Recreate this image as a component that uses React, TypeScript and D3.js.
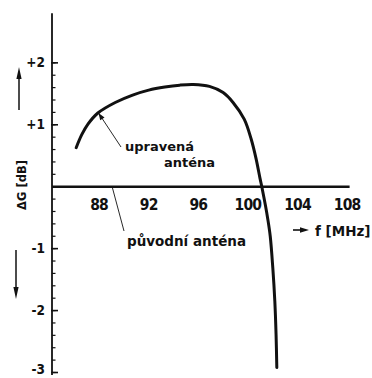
import React from "react";
import * as d3 from "d3";

// Frequency (MHz) and gain difference (dB) of the modified antenna
const freqs = [86.15, 86.6, 87.1, 87.9, 89.3, 90.7, 92.0, 93.3, 94.5, 95.6, 96.9, 98.0, 98.8, 99.7, 100.26, 100.66, 100.98, 101.12, 101.41, 101.6, 101.8, 102.01, 102.17, 102.27, 102.33];
const gains = [0.63, 0.84, 1.01, 1.19, 1.36, 1.48, 1.56, 1.61, 1.64, 1.65, 1.62, 1.52, 1.36, 1.09, 0.77, 0.45, 0.13, 0.0, -0.3, -0.52, -0.8, -1.32, -1.85, -2.39, -2.92];
// original antenna = reference line at 0 dB
const xTicks = [88, 92, 96, 100, 104, 108];
const yTicks = [-3, -2, -1, 1, 2];
const yTickLabels = ["-3", "-2", "-1", "+1", "+2"];

const W = 372;
const H = 378;
const x = d3.scaleLinear().domain([84.2, 108.2]).range([52, 349.6]);
const y = d3.scaleLinear().domain([-3, 2.8]).range([372.5, 13.3]);

const FONT = "'DejaVu Sans', sans-serif";
const FONTC = "'DejaVu Sans Condensed', 'DejaVu Sans', sans-serif";

export default function App() {
  const pts: [number, number][] = freqs.map((f, i) => [f, gains[i]]);
  const line = d3
    .line<[number, number]>()
    .x((d) => x(d[0]))
    .y((d) => y(d[1]))
    .curve(d3.curveCatmullRom.alpha(0.5));

  const minor = d3.range(-3, 2.001, 0.2).map((v) => Math.round(v * 10) / 10);

  // leader for "upravená anténa"
  const p0x = x(87.95);
  const p0y = y(1.19);
  const l1x = 121;
  const l1y = 147;
  const dx = l1x - p0x;
  const dy = l1y - p0y;
  const len = Math.hypot(dx, dy);
  const ux = dx / len;
  const uy = dy / len;
  const headL = 7;
  const headW = 2.6;
  const head = `M${p0x},${p0y} L${p0x + ux * headL - uy * headW},${p0y + uy * headL + ux * headW} L${p0x + ux * headL + uy * headW},${p0y + uy * headL - ux * headW} Z`;

  // leader for "původní anténa"
  const q0x = x(89.05);
  const q0y = y(0);

  return (
    <svg
      width={W}
      height={H}
      viewBox={`0 0 ${W} ${H}`}
      style={{ position: "absolute", left: 0, top: 0, background: "#fff" }}
    >
      <rect x={0} y={0} width={W} height={H} fill="#fff" />
      {/* y axis */}
      <line x1={x(84.2)} x2={x(84.2)} y1={y(2.8)} y2={y(-3.04)} stroke="#111" strokeWidth={1.8} />
      {minor.map((v) => (
        <line key={"m" + v} x1={x(84.2)} x2={x(84.2) + 3.5} y1={y(v)} y2={y(v)} stroke="#111" strokeWidth={1.2} />
      ))}
      {yTicks.map((v) => (
        <line key={"t" + v} x1={x(84.2) - 1} x2={x(84.2) + 6} y1={y(v)} y2={y(v)} stroke="#111" strokeWidth={1.6} />
      ))}
      {yTicks.map((v, i) => (
        <text
          key={"yl" + v}
          x={45}
          y={Math.min(y(v) + 4.5, 374)}
          textAnchor="end"
          fontFamily={FONTC}
          fontWeight="bold"
          fontSize={13.5}
          fill="#111"
        >
          {yTickLabels[i]}
        </text>
      ))}
      {/* y title */}
      <text
        transform={`translate(26,185) rotate(-90)`}
        textAnchor="middle"
        fontFamily={FONT}
        fontWeight="bold"
        fontSize={11.5}
        fill="#111"
      >
        ΔG [dB]
      </text>
      {/* up arrow */}
      <line x1={19} x2={19} y1={76} y2={110} stroke="#111" strokeWidth={1.5} />
      <path d="M19,67 L21.6,79 L16.4,79 Z" fill="#111" />
      {/* down arrow */}
      <line x1={16} x2={16} y1={250} y2={290} stroke="#111" strokeWidth={1.5} />
      <path d="M16,299 L18.6,287 L13.4,287 Z" fill="#111" />

      {/* x axis (original antenna, 0 dB) */}
      <line x1={x(84.2)} x2={x(108.2)} y1={y(0)} y2={y(0)} stroke="#111" strokeWidth={2.6} />
      {xTicks.map((v) => (
        <text
          key={"xl" + v}
          x={x(v)}
          y={210}
          textAnchor="middle"
          fontFamily={FONTC}
          fontWeight="bold"
          fontSize={15.5}
          letterSpacing={-0.8}
          fill="#111"
        >
          {v}
        </text>
      ))}
      {/* x title */}
      <line x1={293} x2={302} y1={230} y2={230} stroke="#111" strokeWidth={1.6} />
      <path d="M309,230 L300,227.2 L300,232.8 Z" fill="#111" />
      <text x={315} y={236} fontFamily={FONT} fontWeight="bold" fontSize={13.5} fill="#111">
        f [MHz]
      </text>

      {/* modified antenna curve */}
      <path d={line(pts) || ""} fill="none" stroke="#111" strokeWidth={3} strokeLinecap="round" />

      {/* leaders and labels */}
      <line x1={p0x} y1={p0y} x2={l1x} y2={l1y} stroke="#111" strokeWidth={0.9} />
      <path d={head} fill="#111" />
      <text x={125} y={151} fontFamily={FONT} fontWeight="bold" fontSize={13} fill="#111">
        upravená
      </text>
      <text x={164} y={167} fontFamily={FONT} fontWeight="bold" fontSize={13} fill="#111">
        anténa
      </text>
      <line x1={q0x} y1={q0y} x2={124} y2={231} stroke="#111" strokeWidth={0.9} />
      <text x={127} y={246} fontFamily={FONT} fontWeight="bold" fontSize={13.5} fill="#111">
        původní anténa
      </text>
    </svg>
  );
}
